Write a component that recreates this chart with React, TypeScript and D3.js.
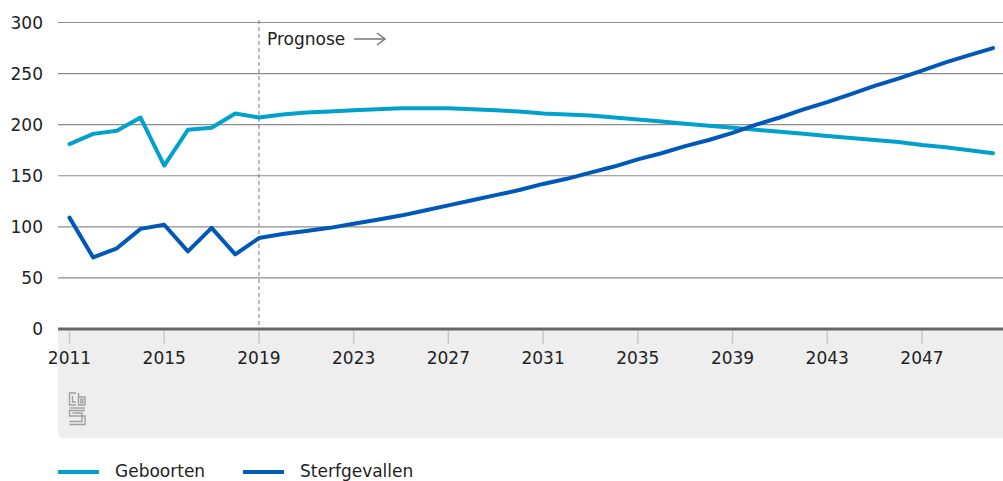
import React from "react";
import * as d3 from "d3";

const years: number[] = [
  2011, 2012, 2013, 2014, 2015, 2016, 2017, 2018, 2019, 2020,
  2021, 2022, 2023, 2024, 2025, 2026, 2027, 2028, 2029, 2030,
  2031, 2032, 2033, 2034, 2035, 2036, 2037, 2038, 2039, 2040,
  2041, 2042, 2043, 2044, 2045, 2046, 2047, 2048, 2049, 2050,
];
const geboorten: number[] = [
  181, 191, 194, 207, 160, 195, 197, 211, 207, 210,
  212, 213, 214, 215, 216, 216, 216, 215, 214, 213,
  211, 210, 209, 207, 205, 203, 201, 199, 197, 195,
  193, 191, 189, 187, 185, 183, 180, 178, 175, 172,
];
const sterfgevallen: number[] = [
  109, 70, 79, 98, 102, 76, 99, 73, 89, 93,
  96, 99, 103, 107, 111, 116, 121, 126, 131, 136,
  142, 147, 153, 159, 166, 172, 179, 185, 192, 200,
  207, 215, 222, 230, 238, 245, 253, 261, 268, 275,
];
const yTicks: number[] = [0, 50, 100, 150, 200, 250, 300];
const xTicks: number[] = [2011, 2015, 2019, 2023, 2027, 2031, 2035, 2039, 2043, 2047];
const seriesNames: string[] = ["Geboorten", "Sterfgevallen"];
const seriesColors: string[] = ["#00a1cd", "#0058b8"];
const prognoseYear = 2019;

const W = 1003;
const H = 481;
const FONT = "'DejaVu Sans', 'Noto Sans', sans-serif";

export default function App() {
  const x = d3.scaleLinear().domain([2011, 2050]).range([69.5, 993]);
  const y = d3.scaleLinear().domain([0, 300]).range([329, 22.5]);
  const line = d3
    .line<number>()
    .x((_, i) => x(years[i]))
    .y((d) => y(d));
  const series = [geboorten, sterfgevallen];
  const left = 58;
  const right = 1003;
  const panelTop = 329;
  const panelBottom = 438;
  const r = 6;
  const panelPath = `M${left},${panelTop} H${right} V${panelBottom} H${left + r} Q${left},${panelBottom} ${left},${panelBottom - r} Z`;

  return (
    <svg
      width={W}
      height={H}
      style={{ position: "absolute", left: 0, top: 0, display: "block" }}
      fontFamily={FONT}
    >
      <rect x={0} y={0} width={W} height={H} fill="#fff" />
      <path d={panelPath} fill="#eeeeee" />
      {/* gridlines */}
      {yTicks.filter((t) => t !== 0).map((t) => (
        <line key={t} x1={left} x2={right} y1={y(t)} y2={y(t)} stroke="#8c8c8c" strokeWidth={1.2} />
      ))}
      {/* y labels */}
      {yTicks.map((t) => (
        <text key={t} x={43} y={y(t) + 6} textAnchor="end" fontSize={17} fill="#222">
          {t}
        </text>
      ))}
      {/* x ticks */}
      {xTicks.map((t) => (
        <g key={t}>
          <line x1={x(t)} x2={x(t)} y1={331} y2={344} stroke="#c8c8c8" strokeWidth={1.5} />
          <text x={x(t)} y={364} textAnchor="middle" fontSize={17} fill="#222">
            {t}
          </text>
        </g>
      ))}
      {/* prognose */}
      <line
        x1={x(prognoseYear)}
        x2={x(prognoseYear)}
        y1={20}
        y2={329}
        stroke="#777"
        strokeWidth={1}
        strokeDasharray="4,3"
      />
      <text x={267} y={45} fontSize={17} fill="#222">
        Prognose
      </text>
      <g stroke="#777" strokeWidth={1.5} fill="none">
        <line x1={354} x2={385} y1={39} y2={39} />
        <polyline points="377,33 385,39 377,45" />
      </g>
      {/* series */}
      {series.map((s, i) => (
        <path
          key={i}
          d={line(s) || ""}
          fill="none"
          stroke={seriesColors[i]}
          strokeWidth={4}
          strokeLinejoin="round"
          strokeLinecap="round"
        />
      ))}
      {/* baseline */}
      <line x1={left} x2={right} y1={y(0)} y2={y(0)} stroke="#666" strokeWidth={3} />
      {/* logo */}
      <g stroke="#a0a0a0" strokeWidth={1.4} fill="none">
        <path d="M76,393 H69.5 V405 H76" />
        <path d="M72.5,396 V402 H76" />
        <path d="M78.5,393 V405 H85 V397 H78.5" />
        <rect x={80.8} y={399.3} width={2} height={3.5} />
        <path d="M69.5,408 H85" />
        <path d="M85,410.5 H69.5 V416 H85 V424.5 H69.5" />
        <path d="M72.5,413 H82 V421.5 H69.5" />
      </g>
      {/* legend */}
      {seriesNames.map((n, i) => {
        const lx = i === 0 ? 58 : 243;
        return (
          <g key={n}>
            <line x1={lx} x2={lx + 41} y1={472} y2={472} stroke={seriesColors[i]} strokeWidth={4} />
            <text x={lx + 57} y={477} fontSize={17} fill="#222">
              {n}
            </text>
          </g>
        );
      })}
    </svg>
  );
}
